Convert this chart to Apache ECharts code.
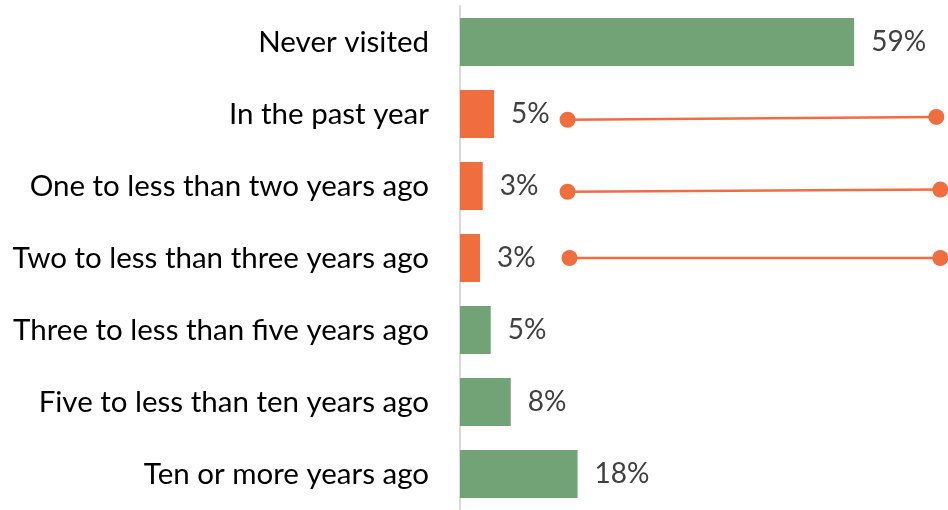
<!DOCTYPE html>
<html><head><meta charset="utf-8">
<script src="https://cdn.jsdelivr.net/npm/echarts@6/dist/echarts.min.js"></script>
<style>html,body{margin:0;padding:0;background:#fff}#c{width:948px;height:510px}</style>
</head><body><div id="c"></div>
<script>
const categories = ["Never visited","In the past year","One to less than two years ago","Two to less than three years ago","Three to less than five years ago","Five to less than ten years ago","Ten or more years ago"];
const values = [59.0, 5.1, 3.4, 3.0, 4.6, 7.6, 17.6];
const highlighted = [false, true, true, true, false, false, false];
// callout connector lines: [x value, row position] endpoints
const line1 = [[16.1, 1.08], [71.3, 1.04]];
const line2 = [[16.1, 2.08], [71.9, 2.05]];
const line3 = [[16.4, 3.0], [71.9, 3.0]];

const GREEN = '#71A376', ORANGE = '#F06D3E';
const FONT = 'Lato';
const chart = echarts.init(document.getElementById('c'));
const lineSeries = (d) => ({
  type: 'line', xAxisIndex: 0, yAxisIndex: 1, data: d, clip: false,
  symbol: 'circle', symbolSize: 16, silent: true,
  lineStyle: {color: ORANGE, width: 2.5}, itemStyle: {color: ORANGE}, z: 5
});
chart.setOption({
  animation: false,
  grid: {left: 460, right: 7, top: 6, height: 507, containLabel: false},
  xAxis: [{type: 'value', min: 0, max: 72, show: false}],
  yAxis: [
    {type: 'category', data: categories, inverse: true,
     axisLine: {show: true, lineStyle: {color: '#D9D9D9', width: 2}},
     axisTick: {show: false},
     axisLabel: {margin: 31, fontFamily: FONT, fontSize: 29.5, color: '#000'}},
    {type: 'value', min: -0.5, max: 6.5, inverse: true, show: false}
  ],
  series: [
    {type: 'bar', barWidth: '67%',
     data: values.map((v, i) => ({value: v, itemStyle: {color: highlighted[i] ? ORANGE : GREEN}})),
     label: {show: true, position: 'right', distance: 17, fontFamily: FONT, fontSize: 28, color: '#404040',
             formatter: p => Math.round(p.value) + '%'}},
    lineSeries(line1), lineSeries(line2), lineSeries(line3)
  ]
});
</script></body></html>
